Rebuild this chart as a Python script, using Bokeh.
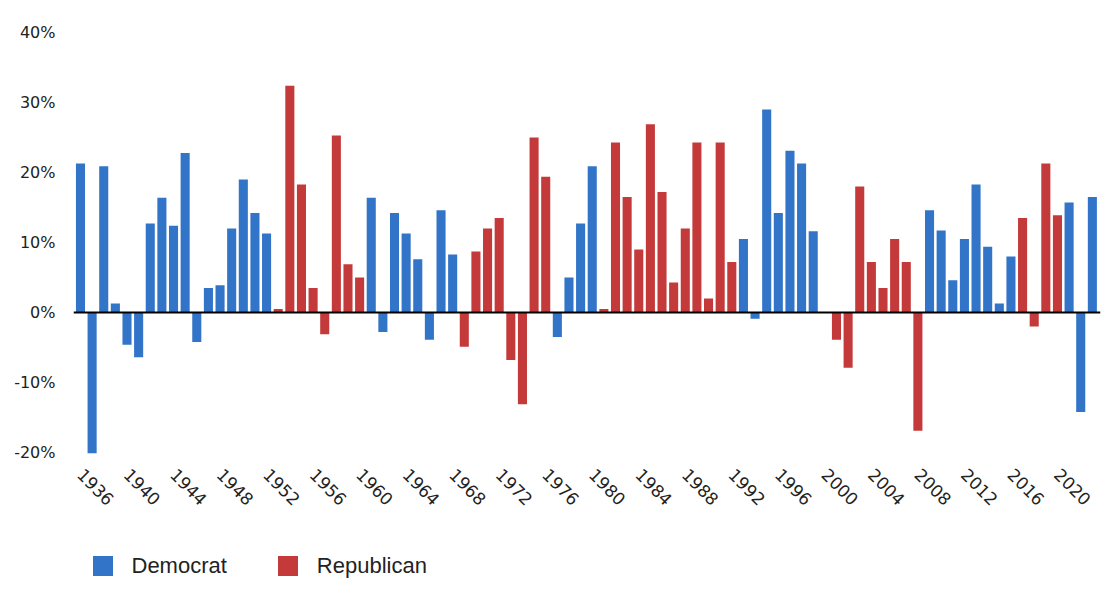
from bokeh.plotting import figure
from bokeh.layouts import column
from bokeh.models import ColumnDataSource, FixedTicker, Span, Legend, LegendItem, Range1d
from bokeh.embed import file_html
from bokeh.resources import INLINE

years = list(range(1936, 2024))

values = [
    21.3, -20.1, 20.9, 1.3, -4.6, -6.4, 12.7, 16.4, 12.4, 22.8, -4.2, 3.5, 3.9, 12.0, 19.0, 14.2, 11.3,
    0.5, 32.4, 18.3, 3.5, -3.1, 25.3, 6.9, 5.0,
    16.4, -2.8, 14.2, 11.3, 7.6, -3.9, 14.6, 8.3,
    -4.9, 8.7, 12.0, 13.5, -6.8, -13.1, 25.0, 19.4,
    -3.5, 5.0, 12.7, 20.9,
    0.5, 24.3, 16.5, 9.0, 26.9, 17.2, 4.3, 12.0, 24.3, 2.0, 24.3, 7.2,
    10.5, -0.9, 29.0, 14.2, 23.1, 21.3, 11.6, 0.0,
    -3.9, -7.9, 18.0, 7.2, 3.5, 10.5, 7.2, -16.9,
    14.6, 11.7, 4.6, 10.5, 18.3, 9.4, 1.3, 8.0,
    13.5, -2.0, 21.3, 13.9,
    15.7, -14.2, 16.5,
]

parties = (["D"] * 17 + ["R"] * 8 + ["D"] * 8 + ["R"] * 8 + ["D"] * 4 + ["R"] * 12
           + ["D"] * 8 + ["R"] * 8 + ["D"] * 8 + ["R"] * 4 + ["D"] * 3)

tick_years = [1936, 1940, 1944, 1948, 1952, 1956, 1960, 1964, 1968, 1972, 1976,
              1980, 1984, 1988, 1992, 1996, 2000, 2004, 2008, 2012, 2016, 2020]

y_ticks = [-20, -10, 0, 10, 20, 30, 40]
y_tick_labels = ["-20%", "-10%", "0%", "10%", "20%", "30%", "40%"]

series_names = ["Democrat", "Republican"]
series_colors = ["#3174C8", "#C43A3A"]

dem = ColumnDataSource(dict(
    x=[y for y, p in zip(years, parties) if p == "D"],
    top=[v for v, p in zip(values, parties) if p == "D"],
))
rep = ColumnDataSource(dict(
    x=[y for y, p in zip(years, parties) if p == "R"],
    top=[v for v, p in zip(values, parties) if p == "R"],
))

p = figure(width=1104, height=530, output_backend="svg", toolbar_location=None,
           x_range=(1935.4, 2023.7), y_range=(-21, 41),
           min_border_left=73, min_border_right=4, min_border_top=25, min_border_bottom=71)

p.background_fill_color = "white"
p.border_fill_color = "white"
p.outline_line_color = None
p.xgrid.visible = False
p.ygrid.visible = False

p.vbar(x="x", top="top", bottom=0, width=0.78, source=dem,
       fill_color=series_colors[0], line_color=None)
p.vbar(x="x", top="top", bottom=0, width=0.78, source=rep,
       fill_color=series_colors[1], line_color=None)

p.add_layout(Span(location=0, dimension="width", line_color="black", line_width=2))

# Y axis
p.yaxis.ticker = FixedTicker(ticks=y_ticks)
p.yaxis.major_label_overrides = {t: l for t, l in zip(y_ticks, y_tick_labels)}
p.yaxis.axis_line_color = None
p.yaxis.major_tick_line_color = None
p.yaxis.minor_tick_line_color = None
p.yaxis.major_tick_out = 0
p.yaxis.major_tick_in = 0
p.yaxis.major_label_standoff = 18
p.yaxis.major_label_text_font = "DejaVu Sans"
p.yaxis.major_label_text_font_size = "16px"
p.yaxis.major_label_text_color = "#222222"

# X axis
p.xaxis.ticker = FixedTicker(ticks=tick_years)
p.xaxis.major_label_overrides = {t: str(t) for t in tick_years}
p.xaxis.axis_line_color = None
p.xaxis.major_tick_line_color = None
p.xaxis.minor_tick_line_color = None
p.xaxis.major_tick_out = 0
p.xaxis.major_tick_in = 0
p.xaxis.major_label_standoff = 12
p.xaxis.major_label_orientation = -0.785398
p.xaxis.major_label_text_font = "DejaVu Sans"
p.xaxis.major_label_text_font_size = "17px"
p.xaxis.major_label_text_color = "#222222"

# Legend strip (separate figure so the legend sits fully inside a frame)
lg = figure(width=1104, height=70, output_backend="svg", toolbar_location=None,
            x_range=Range1d(0, 1), y_range=Range1d(0, 1),
            x_axis_type=None, y_axis_type=None,
            min_border_left=0, min_border_right=0, min_border_top=0, min_border_bottom=0)
lg.outline_line_color = None
lg.xgrid.visible = False
lg.ygrid.visible = False
lg.background_fill_color = "white"
lg.border_fill_color = "white"

# legend proxies: zero-height bars placed outside the visible range
proxy_dem = lg.vbar(x=[-5], top=[0], bottom=0, width=0.5,
                    fill_color=series_colors[0], line_color=None)
proxy_rep = lg.vbar(x=[-5], top=[0], bottom=0, width=0.5,
                    fill_color=series_colors[1], line_color=None)

legend = Legend(
    items=[LegendItem(label=series_names[0], renderers=[proxy_dem]),
           LegendItem(label=series_names[1], renderers=[proxy_rep])],
    orientation="horizontal",
    location=(16.5, 21.5),
    glyph_width=25, glyph_height=25,
    label_standoff=17, spacing=48,
    padding=0, margin=0,
    border_line_color=None, background_fill_alpha=0,
    label_text_font="Liberation Sans", label_text_font_size="22px",
    label_text_color="#222222",
)
lg.add_layout(legend, "center")

layout = column(p, lg, spacing=0)

open("out.html", "w").write(file_html(layout, INLINE))
